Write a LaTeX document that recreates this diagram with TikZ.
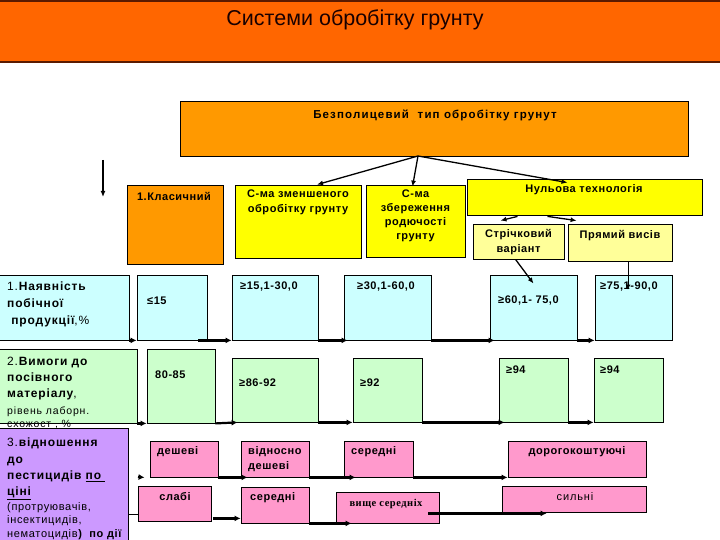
\documentclass[tikz,border=0pt]{standalone}
\usepackage{fontspec}
\setmainfont{Liberation Sans}
\newfontfamily\serifx{Liberation Serif}
\usetikzlibrary{fit,arrows.meta}
\definecolor{titleor}{HTML}{FF6600}
\definecolor{titleln}{HTML}{5A1A00}
\definecolor{boxor}{HTML}{FF9900}
\definecolor{yel}{HTML}{FFFF00}
\definecolor{lyel}{HTML}{FFFF99}
\definecolor{cyanl}{HTML}{CCFFFF}
\definecolor{greenl}{HTML}{CCFFCC}
\definecolor{purp}{HTML}{CC99FF}
\definecolor{pinkb}{HTML}{FF99CC}
\newcommand\lsp[1]{\addfontfeature{LetterSpace=#1}}
\begin{document}
\begin{tikzpicture}[x=1pt,y=-1pt,
  bx/.style={draw=black, line width=0.8pt, inner sep=0pt},
  arr/.style={-{Latex[length=6pt,width=6pt]}, line width=2.2pt},
  tarr/.style={-{Latex[length=6pt,width=5pt]}, line width=1.3pt},
  txt/.style={inner sep=0pt, font=\bfseries\fontsize{11}{13}\selectfont\lsp{5}},
  hdr/.style={inner sep=0pt, anchor=north west, align=left, font=\fontsize{12}{17}\selectfont\lsp{7}},
  sml/.style={inner sep=0pt, anchor=north west, align=left, font=\fontsize{10.5}{13}\selectfont\lsp{8}}]
\useasboundingbox (0,0) rectangle (720,540);

% title
\node[draw=titleln, line width=1.2pt, fill=titleor, inner sep=0pt, fit={(-2,1) (722,62)}] (title) {};
\node[inner sep=0pt, text=black!90!red, font=\fontsize{21.5}{24}\selectfont] (tt) at (355,20) {Системи обробітку грунту};

% big box
\node[bx, fill=boxor, fit={(180,101) (688,156)}] (big) {};
\node[txt, font=\bfseries\fontsize{11.5}{13}\selectfont\lsp{10}] (bigt) at (435,115) {Безполицевий\ \ тип обробітку грунут};

\coordinate (la1) at (103,160);
\coordinate (la2) at (103,197);
\draw[tarr] (la1) -- (la2);

% second level
\node[bx, fill=boxor, fit={(127,185) (223,264)}] (klas) {};
\node[txt] (klast) at (174,196) {1.Класичний};
\node[bx, fill=yel, fit={(235,185) (361,258)}] (zmen) {};
\node[txt, anchor=north, align=center, font=\bfseries\fontsize{11}{15}\selectfont\lsp{5}] (zment) at (298,190) {С-ма зменшеного\\обробітку грунту};
\node[bx, fill=yel, fit={(366,185) (465,257)}] (zber) {};
\node[txt, anchor=north, align=center, font=\bfseries\fontsize{11}{14}\selectfont\lsp{5}] (zbert) at (415.5,190) {С-ма\\збереження\\родючості\\грунту};
\node[bx, fill=yel, fit={(467,179) (702,215)}] (nul) {};
\node[txt] (nult) at (584,190) {Нульова технологія};
\node[bx, fill=lyel, fit={(473,224) (564,259)}] (strich) {};
\node[txt, anchor=north, align=center, font=\bfseries\fontsize{11}{15}\selectfont\lsp{5}] (stricht) at (518.5,229) {Стрічковий\\варіант};
\node[bx, fill=lyel, fit={(568,224) (672,261)}] (pryam) {};
\node[txt] (pryamt) at (620,236) {Прямий висів};

\coordinate (src) at (418,156);
\draw[tarr] (src) -- ([xshift=19pt]zmen.north);
\draw[tarr] (src) -- ([xshift=-3pt,yshift=-2pt]zber.north);
\draw[tarr] (src) -- ([xshift=-17pt,yshift=-4pt]nul.north);
\draw[tarr] ([xshift=-67pt,yshift=-1pt]nul.south) -- ([xshift=-18pt,yshift=3pt]strich.north);
\draw[tarr] ([xshift=-37pt,yshift=-1pt]nul.south) -- ([xshift=9pt,yshift=3pt]pryam.north west);

% row 1
\node[bx, fill=cyanl, fit={(-2,275) (129,340)}] (r1h) {};
\node[hdr] (r1ht) at (7,282) {1.\textbf{Наявність}\\\textbf{побічної}\\\ \textbf{продукції},\%};
\node[bx, fill=cyanl, fit={(137,275) (207,340)}] (c15) {};
\node[txt, anchor=west] (c15t) at (147,301) {≤15};
\node[bx, fill=cyanl, fit={(232,275) (318,340)}] (c1530) {};
\node[txt, anchor=west] (c1530t) at (240,287) {≥15,1-30,0};
\node[bx, fill=cyanl, fit={(344,275) (431,340)}] (c3060) {};
\node[txt, anchor=west] (c3060t) at (357,287) {≥30,1-60,0};
\node[bx, fill=cyanl, fit={(490,275) (577,340)}] (c6075) {};
\node[txt, anchor=west] (c6075t) at (498,301) {≥60,1- 75,0};
\node[bx, fill=cyanl, fit={(595,275) (672,340)}] (c7590) {};
\node[txt, anchor=west] (c7590t) at (600,287) {≥75,1-90,0};

\draw[tarr] ([xshift=-3pt]strich.south) -- ([xshift=0pt,yshift=-9pt]c6075.north);
\draw[line width=0.8pt, -{Latex[length=5pt,width=5pt]}] ([xshift=8pt]pryam.south) -- ([xshift=-5.5pt,yshift=-15pt]c7590.north);

\draw[arr] (r1h.south east) -- (c15.south west);
\draw[arr] ([xshift=-9pt]c15.south east) -- (c1530.south west);
\draw[arr] (c1530.south east) -- ([xshift=4pt]c3060.south west);
\draw[arr] (c3060.south east) -- ([xshift=5pt]c6075.south west);
\draw[arr] (c6075.south east) -- (c7590.south west);

% row 2
\node[bx, fill=greenl, fit={(-2,349) (137,423)}] (r2h) {};
\node[hdr, font=\fontsize{12}{16}\selectfont\lsp{7}] (r2ht) at (7,357) {2.\textbf{Вимоги до}\\\textbf{посівного}\\\textbf{матеріалу},};
\node[sml] (r2hs) at (7,407) {рівень лаборн.\\схожост , \%};
\node[bx, fill=greenl, fit={(147,349) (215,423)}] (g85) {};
\node[txt, anchor=west] (g85t) at (155,375) {80-85};
\node[bx, fill=greenl, fit={(232,358) (318,422)}] (g8692) {};
\node[txt, anchor=west] (g8692t) at (239,383) {≥86-92};
\node[bx, fill=greenl, fit={(353,358) (422,422)}] (g92) {};
\node[txt, anchor=west] (g92t) at (360,383) {≥92};
\node[bx, fill=greenl, fit={(499,358) (568,422)}] (g94a) {};
\node[txt, anchor=west] (g94at) at (506,370) {≥94};
\node[bx, fill=greenl, fit={(594,358) (663,422)}] (g94b) {};
\node[txt, anchor=west] (g94bt) at (600,370) {≥94};

\draw[arr] (r2h.south east) -- (g85.south west);
\draw[arr] (g85.south east) -- ([xshift=6pt]g8692.south west);
\draw[arr] (g8692.south east) -- (g92.south west);
\draw[arr] (g92.south east) -- ([xshift=6pt]g94a.south west);
\draw[arr] (g94a.south east) -- (g94b.south west);

% row 3
\node[bx, fill=purp, fit={(-2,428) (128,546)}] (r3h) {};
\node[hdr, font=\fontsize{12}{16.3}\selectfont\lsp{7}] (r3ht) at (7,438) {3.\textbf{відношення}\\\textbf{до}\\\textbf{пестицидів \underline{по\ }}\\\textbf{\underline{ціні}}};
\node[sml, font=\fontsize{11}{13.5}\selectfont\lsp{6}] (r3hs) at (7,502) {(протруювачів,\\інсектицидів,\\нематоцидів\textbf{)\ \ \underline{по дії}}};

\node[bx, fill=pinkb, fit={(150,441) (218,477)}] (p1) {};
\node[txt, anchor=west] (p1t) at (157,452) {дешеві};
\node[bx, fill=pinkb, fit={(241,441) (309,477)}] (p2) {};
\node[txt, anchor=north west, align=left, font=\bfseries\fontsize{11}{15}\selectfont\lsp{5}] (p2t) at (248,446) {відносно\\дешеві};
\node[bx, fill=pinkb, fit={(344,441) (413,477)}] (p3) {};
\node[txt, anchor=west] (p3t) at (351,452) {середні};
\node[bx, fill=pinkb, fit={(508,441) (646,477)}] (p4) {};
\node[txt] (p4t) at (577,452) {дорогокоштуючі};

\node[bx, fill=pinkb, fit={(138,486) (211,521)}] (q1) {};
\node[txt] (q1t) at (175,497) {слабі};
\node[bx, fill=pinkb, fit={(241,487) (309,523)}] (q2) {};
\node[txt, anchor=west] (q2t) at (250,498) {середні};
\node[bx, fill=pinkb, fit={(336,492) (439,523)}] (q3) {};
\node[inner sep=0pt, font=\serifx\bfseries\fontsize{10.5}{12}\selectfont\lsp{5}] (q3t) at (386,504) {вище середніх};
\node[bx, fill=pinkb, fit={(502,486) (646,512)}] (q4) {};
\node[inner sep=0pt, font=\fontsize{11}{13}\selectfont\lsp{8}] (q4t) at (575,497) {сильні};

\coordinate (pa0) at (138,477);
\draw[arr] (pa0) -- ([xshift=-5pt]p1.south west);
\draw[arr] (p1.south east) -- ([xshift=7pt]p2.south west);
\draw[arr] (p2.south east) -- ([xshift=12pt]p3.south west);
\draw[arr] (p3.south east) -- (p4.south west);

\coordinate (qa0) at (128,514);
\coordinate (qa1) at (138,514);
\draw[line width=0.6pt] (qa0) -- (qa1);
\draw[arr] ([xshift=2pt,yshift=3pt]q1.south east) -- ([yshift=5pt]q2.south west);
\draw[arr] (q2.south east) -- ([xshift=16pt]q3.south west);
\draw[arr] ([xshift=-11pt,yshift=10pt]q3.south east) -- ([xshift=45pt,yshift=-1pt]q4.south west);
\end{tikzpicture}
\end{document}
